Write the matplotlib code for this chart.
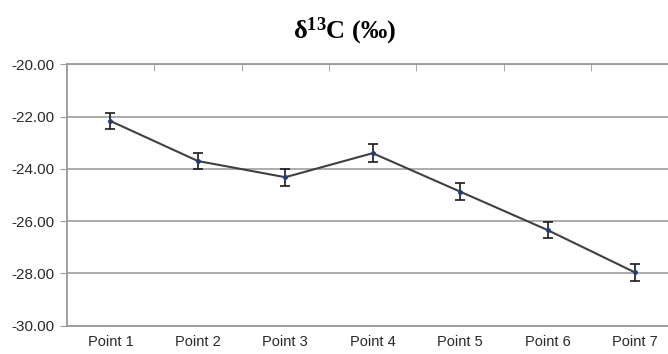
import matplotlib
matplotlib.use("Agg")
import matplotlib.pyplot as plt
import numpy as np

labels = ["Point 1", "Point 2", "Point 3", "Point 4", "Point 5", "Point 6", "Point 7"]
d13c = [-22.17, -23.70, -24.32, -23.40, -24.87, -26.34, -27.96]
err = [0.31, 0.32, 0.32, 0.34, 0.33, 0.30, 0.32]

plt.rcParams["mathtext.default"] = "regular"

fig = plt.figure(figsize=(6.68, 3.54), dpi=100)
ax = fig.add_axes([0.0999, 0.0799, 0.916, 0.7385])

x = np.arange(len(labels))
ax.errorbar(x, d13c, yerr=err, color="#404040", lw=1.5, ecolor="#1a1a1a",
            elinewidth=1.2, capsize=3.5, capthick=1.2, marker="o", ms=2.5,
            mfc="#1f3d7a", mec="#1f3d7a", zorder=3)

ax.set_xlim(-0.5, len(labels) - 0.5)
ax.set_ylim(-30, -20)
ax.set_yticks(np.arange(-30, -19, 2))
ax.set_yticklabels([f"{v:.2f}" for v in np.arange(-30, -19, 2)])
ax.yaxis.grid(True, color="#a6a6a6", lw=1.3)
ax.set_axisbelow(True)

ax.set_xticks(x)
ax.set_xticklabels(labels)
ax.set_xticks(np.arange(0.5, len(labels) - 1, 1), minor=True)
ax.tick_params(axis="x", which="major", length=0, pad=7, labelsize=10.5, labelcolor="#2a2a2a")
ax.tick_params(axis="x", which="minor", top=True, bottom=False, direction="in",
               length=5, color="#999999")
ax.tick_params(axis="y", length=5, color="#999999", labelsize=11, labelcolor="#2a2a2a", pad=4)
for lab in ax.get_xticklabels() + ax.get_yticklabels():
    lab.set_fontfamily("Liberation Sans")

ax.spines["right"].set_visible(False)
for s in ["left", "top", "bottom"]:
    ax.spines[s].set_color("#999999")
    ax.spines[s].set_linewidth(1.3)

fig.text(0.516, 0.912, "δ$^{13}$C (‰)", ha="center", va="center",
         fontfamily="Liberation Serif", fontweight="bold", fontsize=19)

fig.savefig("out.png", dpi=100)
